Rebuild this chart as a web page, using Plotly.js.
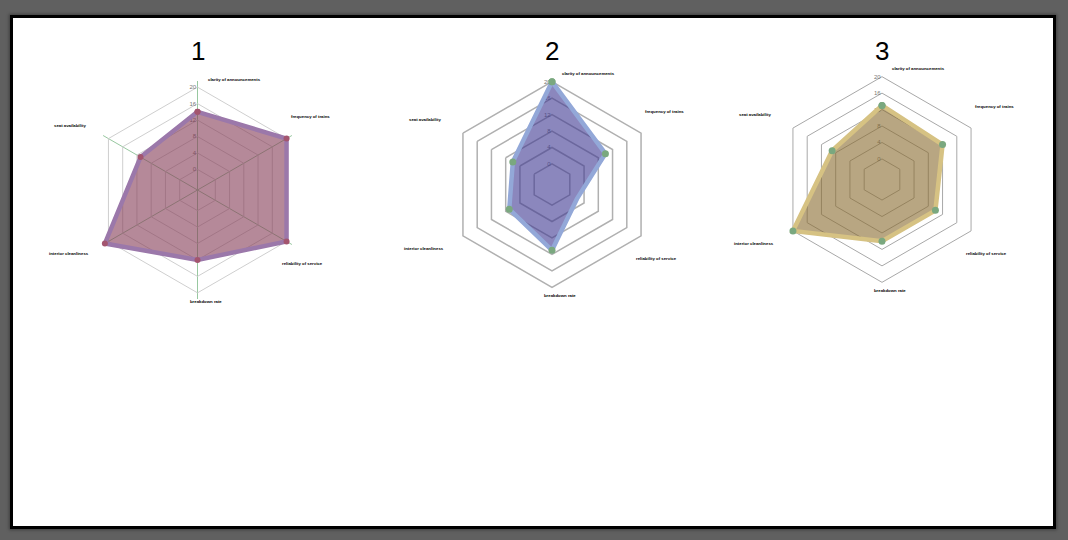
<!DOCTYPE html>
<html>
<head>
<meta charset="utf-8">
<script src="https://cdn.plot.ly/plotly-3.0.1.min.js"></script>
<style>
  html, body { margin: 0; padding: 0; background: #606060; width: 1068px; height: 540px; overflow: hidden; }
  #frame { position: absolute; left: 10px; top: 15px; width: 1046px; height: 514px; box-sizing: border-box;
           border: 3px solid #000; background: #fff; box-shadow: 0 0 3px 1px rgba(0,0,0,0.35); }
  #chart { width: 1040px; height: 508px; }
</style>
</head>
<body>
<div id="frame"><div id="chart"></div></div>
<script>
// ---- data ----
const categories = ["clarity of announcements", "frequency of trains", "reliability of service",
                    "breakdown rate", "interior cleanliness", "seat availability"];
const chartTitles = ["1", "2", "3"];
const series1 = [14, 20, 20, 12, 21, 11];
const series2 = [20, 10, 2, 11, 7, 6];
const series3 = [13, 12, 10, 10, 20, 9];
const radialTicks = [0, 4, 8, 12, 16, 20];

// ---- layout helpers ----
const W = 1040, H = 508;
const R = 109;                 // polar outer radius in px
const RMIN = -5, RMAX = 21.5;  // radial range
const centers = [[184.5, 172], [539, 166.5], [869, 161.5]];
function domainFor(c) {
  return {
    x: [(c[0] - R) / W, (c[0] + R) / W],
    y: [(H - c[1] - R) / H, (H - c[1] + R) / H]
  };
}
// label placement relative to the outer (20) ring vertex: dx, dy (px), anchor
const labelOffsets = [[8, -8, 'left'], [2, -22, 'left'], [-7, 22.5, 'left'],
                      [8, 8.5, 'center'], [-17, 12.5, 'right'], [-20, -13.5, 'right']];

const styles = [
  {fill: 'rgba(132,58,85,0.6)', line: '#9b78aa', marker: '#a3556f', msize: 6, grid: '#cfcfcf', gw: 1, spokes: true},
  {fill: 'rgba(62,55,145,0.6)', line: '#93a8d8', marker: '#7aa87f', msize: 7, grid: '#b0b0b0', gw: 1.5, spokes: false},
  {fill: 'rgba(137,107,47,0.6)', line: '#d6c283', marker: '#7aa87f', msize: 7, grid: '#a8a8a8', gw: 1, spokes: false}
];
const allSeries = [series1, series2, series3];

const traces = allSeries.map((vals, i) => ({
  type: 'scatterpolar',
  subplot: i === 0 ? 'polar' : 'polar' + (i + 1),
  r: vals.concat([vals[0]]),
  theta: categories.concat([categories[0]]),
  mode: 'lines+markers',
  fill: 'toself',
  fillcolor: styles[i].fill,
  line: {color: styles[i].line, width: 4.5},
  marker: {color: styles[i].marker, size: styles[i].msize},
  hoverinfo: 'r+theta',
  showlegend: false
}));

const annotations = [];
chartTitles.forEach((t, i) => {
  annotations.push({
    text: t, showarrow: false, xref: 'paper', yref: 'paper',
    x: centers[i][0] / W, y: (H - 33) / H, xanchor: 'center', yanchor: 'middle',
    font: {size: 26, color: '#000'}
  });
});
const ring20 = R * (20 - RMIN) / (RMAX - RMIN);
centers.forEach((c, i) => {
  categories.forEach((cat, k) => {
    const th = (90 - 60 * k) * Math.PI / 180;
    const vx = c[0] + ring20 * Math.cos(th);
    const vy = c[1] - ring20 * Math.sin(th);
    const o = labelOffsets[k];
    annotations.push({
      text: cat, showarrow: false, xref: 'paper', yref: 'paper',
      x: (vx + o[0]) / W, y: (H - (vy + o[1])) / H,
      xanchor: o[2], yanchor: 'middle',
      font: {size: 4.3, color: '#000', weight: 'bold'}
    });
  });
});

const layout = {
  width: W, height: H,
  margin: {l: 0, r: 0, t: 0, b: 0},
  paper_bgcolor: '#fff',
  font: {family: 'Liberation Sans, Arial, sans-serif', color: '#000'},
  showlegend: false,
  annotations: annotations
};

centers.forEach((c, i) => {
  const key = i === 0 ? 'polar' : 'polar' + (i + 1);
  layout[key] = {
    domain: domainFor(c),
    gridshape: 'linear',
    bgcolor: 'rgba(0,0,0,0)',
    radialaxis: {
      range: [RMIN, RMAX],
      tickvals: radialTicks,
      angle: 90,
      side: 'counterclockwise',
      tickangle: 90,
      ticks: '',
      showline: false,
      gridcolor: styles[i].grid,
      gridwidth: styles[i].gw,
      tickfont: {size: 6, color: '#777'},
      layer: 'below traces'
    },
    angularaxis: {
      direction: 'clockwise',
      rotation: 90,
      showline: false,
      ticks: '',
      showticklabels: false,
      showgrid: styles[i].spokes,
      gridcolor: '#98c8a0',
      layer: 'below traces'
    }
  };
});

Plotly.newPlot('chart', traces, layout, {displayModeBar: false, staticPlot: true});
</script>
</body>
</html>
